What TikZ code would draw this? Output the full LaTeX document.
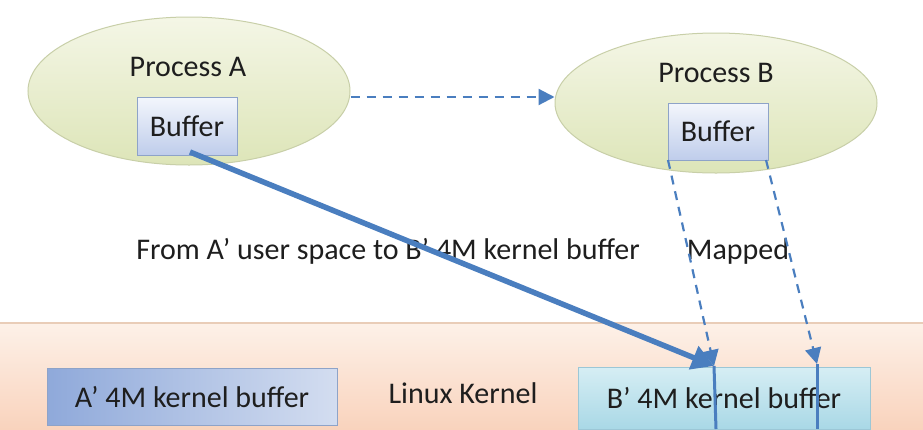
\documentclass[tikz,border=0pt]{standalone}
\usepackage{fontspec}
\setmainfont{Carlito}
\usetikzlibrary{arrows.meta,shapes.geometric,calc}
\definecolor{arrblue}{HTML}{4A7EBF}
\definecolor{ellborder}{HTML}{C8CFA8}
\definecolor{elltop}{HTML}{F4F6E6}
\definecolor{ellbot}{HTML}{DDE5B8}
\definecolor{buftop}{HTML}{F3F6FC}
\definecolor{bufbot}{HTML}{BFCDEB}
\definecolor{bufborder}{HTML}{8EA3C8}
\definecolor{akleft}{HTML}{8FA9DA}
\definecolor{akright}{HTML}{D3DDF0}
\definecolor{bktop}{HTML}{D6EEF4}
\definecolor{bkbot}{HTML}{A9D8E6}
\definecolor{bkborder}{HTML}{9CC7D6}
\definecolor{kertop}{HTML}{FDF1E8}
\definecolor{kerbot}{HTML}{F9D3BD}
\definecolor{kerline}{HTML}{E9CDB8}
\definecolor{txt}{HTML}{1E1E1E}
\tikzset{
  procell/.style={ellipse, draw=ellborder, line width=1pt, top color=elltop, bottom color=ellbot, inner sep=0pt},
  bufbox/.style={rectangle, draw=bufborder, line width=1pt, top color=buftop, bottom color=bufbot, font=\fontsize{30}{32}\selectfont, text=txt, inner sep=0pt},
  akbox/.style={rectangle, draw=bufborder, line width=1pt, left color=akleft, right color=akright, font=\fontsize{30}{32}\selectfont, text=txt, inner sep=0pt},
  bkbox/.style={rectangle, draw=bkborder, line width=1pt, top color=bktop, bottom color=bkbot, font=\fontsize{30}{32}\selectfont, text=txt, inner sep=0pt},
  lbl/.style={font=\fontsize{30}{32}\selectfont, text=txt, inner sep=0pt},
  dasharrow/.style={draw=arrblue, line width=2.2pt, dash pattern=on 9pt off 7pt, -{Triangle[length=16pt,width=16pt]}},
  thickarrow/.style={draw=arrblue, line width=5.5pt, -{Triangle[length=22pt,width=24pt]}},
  vline/.style={draw=arrblue, line width=3pt}
}
\begin{document}
\begin{tikzpicture}[x=1pt,y=-1pt]
\useasboundingbox (0,0) rectangle (923,429);
\fill[white] (0,0) rectangle (923,429);
% kernel background
\shade[top color=kertop, bottom color=kerbot] (0,323) rectangle (923,429);
\draw[kerline, line width=1.5pt] (0,323) -- (923,323);
% processes
\node[procell, minimum width=322pt, minimum height=148pt] (pa) at (189,91) {};
\node[lbl] (pat) at (188,67) {Process A};
\node[bufbox, minimum width=100pt, minimum height=58pt] (ba) at (187,126) {Buffer};
\node[procell, minimum width=322pt, minimum height=140pt] (pb) at (716,103) {};
\node[lbl] (pbt) at (716,73) {Process B};
\node[bufbox, minimum width=100pt, minimum height=57pt] (bb) at (718,131.5) {Buffer};
% kernel boxes
\node[akbox, minimum width=290pt, minimum height=57pt] (ak) at (192,397) {A’ 4M kernel buffer};
\node[lbl] (lk) at (463,393) {Linux Kernel};
\node[bkbox, minimum width=292pt, minimum height=62pt] (bk) at (724,398) {B’ 4M kernel buffer};
% labels
\node[lbl] (from) at (388,251) {From A’ user space to B’ 4M kernel buffer};
\node[lbl] (map) at (738,251) {Mapped};
% coordinates
\coordinate (ta) at (714,366);
\coordinate (tb) at (817,364);
\coordinate (sa) at (190,152);
\coordinate (da) at (668,160);
\coordinate (db) at (766,160);
\coordinate (ea) at (716,429);
\coordinate (eb) at (817,429);
% connectors
\draw[dasharrow] (pa.east |- 0,97) -- (pb.west |- 0,97);
\draw[vline] (ta) -- (ea);
\draw[vline] (tb) -- (eb);
\draw[thickarrow] (sa) -- (ta);
\draw[dasharrow] (da) -- (ta);
\draw[dasharrow] (db) -- (tb);
\end{tikzpicture}
\end{document}
